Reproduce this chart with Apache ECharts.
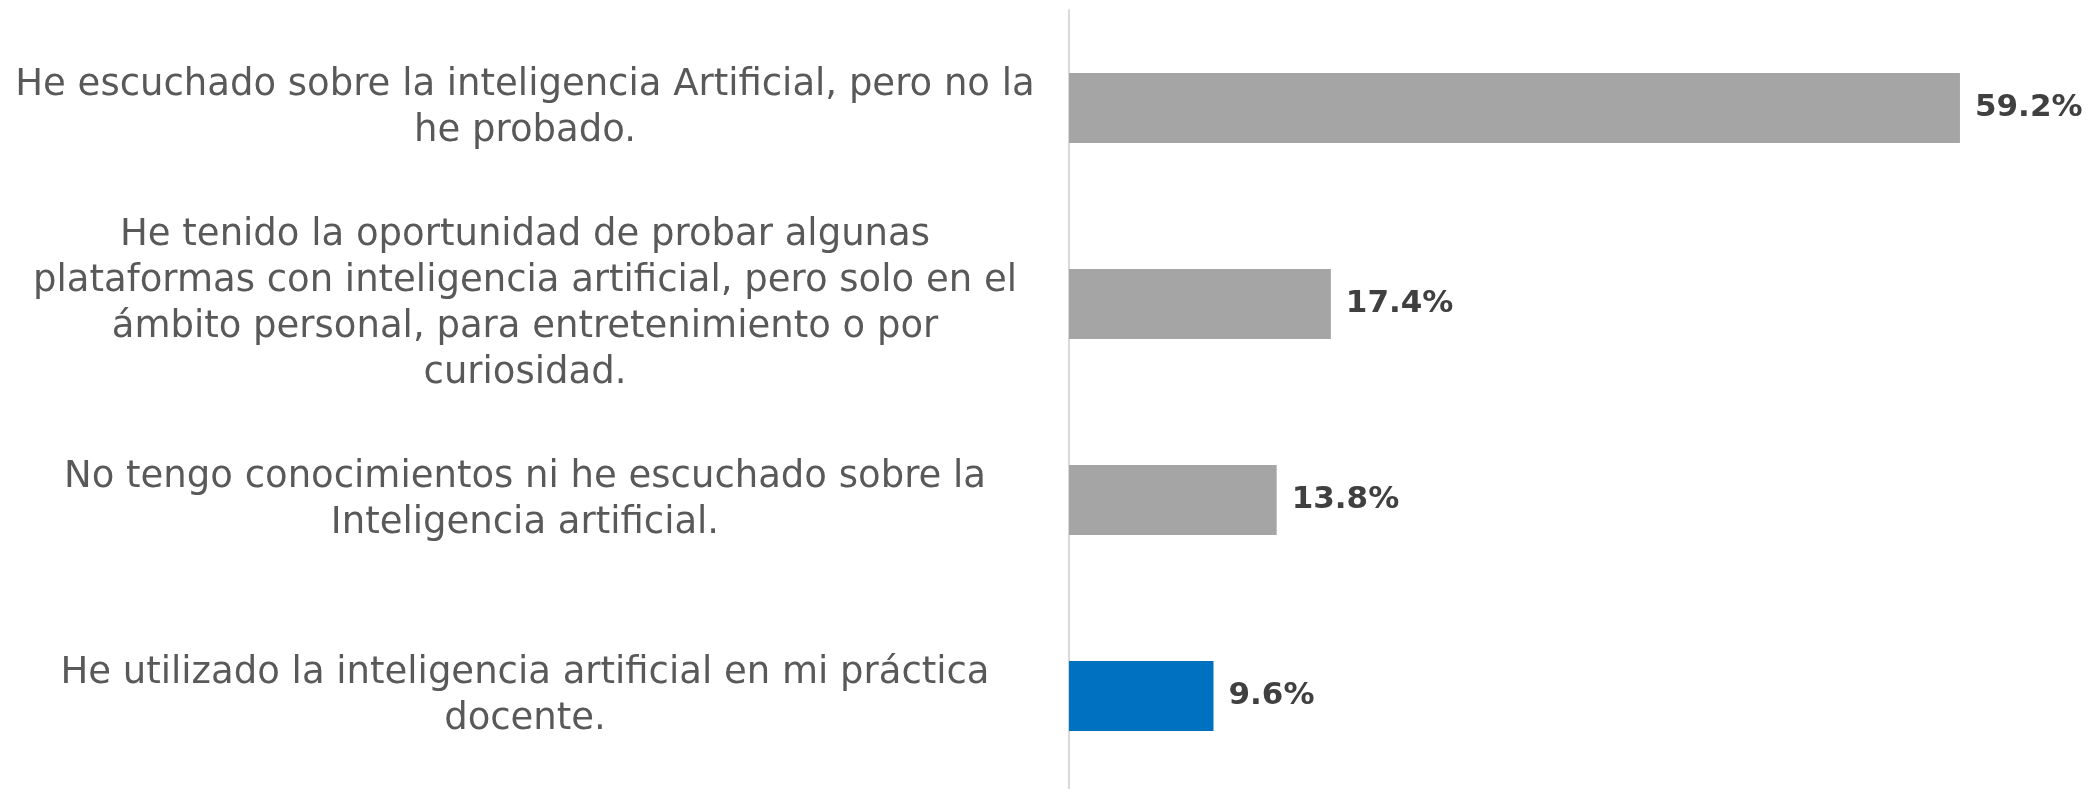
<!DOCTYPE html>
<html>
<head>
<meta charset="utf-8">
<script src="https://cdn.jsdelivr.net/npm/echarts@6/dist/echarts.min.js"></script>
<style>
html,body{margin:0;padding:0;background:#fff;}
#chart{width:2090px;height:789px;}
</style>
</head>
<body>
<div id="chart"></div>
<script>
var categories = [
  "He escuchado sobre la inteligencia Artificial, pero no la\nhe probado.",
  "He tenido la oportunidad de probar algunas\nplataformas con inteligencia artificial, pero solo en el\námbito personal, para entretenimiento o por\ncuriosidad.",
  "No tengo conocimientos ni he escuchado sobre la\nInteligencia artificial.",
  "He utilizado la inteligencia artificial en mi práctica\ndocente."
];
var values = [59.2, 17.4, 13.8, 9.6];
var barColors = ["#A5A5A5", "#A5A5A5", "#A5A5A5", "#0070C0"];

var chart = echarts.init(document.getElementById('chart'), null, {renderer: 'canvas'});
chart.setOption({
  animation: false,
  backgroundColor: '#ffffff',
  grid: {left: 1069, top: 10, height: 784, width: 903, outerBoundsMode: 'none', containLabel: false},
  xAxis: {
    type: 'value', min: 0, max: 60,
    show: false, splitLine: {show: false}
  },
  yAxis: {
    type: 'category',
    data: categories,
    inverse: true,
    axisLine: {show: true, lineStyle: {color: '#D9D9D9', width: 2}},
    axisTick: {show: false},
    axisLabel: {
      align: 'center',
      verticalAlign: 'middle',
      margin: 544,
      color: '#595959',
      fontFamily: 'DejaVu Sans',
      fontSize: 37,
      lineHeight: 46,
      padding: [14, 0, 0, 0]
    }
  },
  series: [{
    type: 'bar',
    barWidth: 70,
    data: values.map(function (v, i) {
      return {value: v, itemStyle: {color: barColors[i]}};
    }),
    label: {
      show: true,
      position: 'right',
      distance: 15,
      formatter: function (p) { return p.value.toFixed(1) + '%'; },
      color: '#404040',
      fontFamily: 'DejaVu Sans',
      fontWeight: 'bold',
      fontSize: 31
    }
  }]
});
</script>
</body>
</html>
